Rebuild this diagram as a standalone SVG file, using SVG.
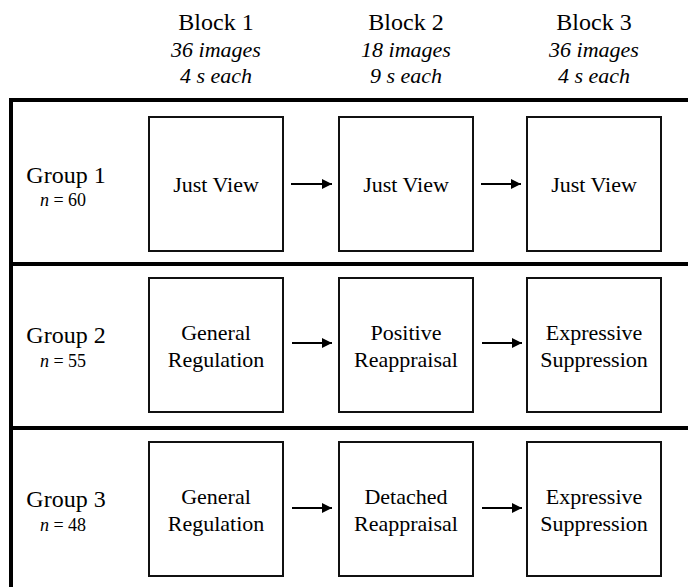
<svg xmlns="http://www.w3.org/2000/svg" width="688" height="587" viewBox="0 0 688 587" font-family="Liberation Serif, serif">
<style>
text{fill:#000;text-anchor:middle}
.hd{font-size:24px}
.it{font-size:22px;font-style:italic}
.grp{font-size:24px}
.n{font-size:18px}
.bx{font-size:22px}
.box{fill:#fff;stroke:#111;stroke-width:2}
.frame{fill:none;stroke:#000;stroke-width:4}
.arr{stroke:#000;stroke-width:2;fill:none}
</style>
<defs>
<marker id="ah" viewBox="0 0 10 10" refX="10" refY="5" markerWidth="5" markerHeight="5" orient="auto" markerUnits="strokeWidth">
<path d="M0,0 L10,5 L0,10 z" fill="#000"/>
</marker>
</defs>
<rect width="688" height="587" fill="#fff"/>
<g id="headers">
<text class="hd" x="216" y="30">Block 1</text>
<text class="it" x="216" y="57">36 images</text>
<text class="it" x="216" y="83">4 s each</text>
<text class="hd" x="406" y="30">Block 2</text>
<text class="it" x="406" y="57">18 images</text>
<text class="it" x="406" y="83">9 s each</text>
<text class="hd" x="594" y="30">Block 3</text>
<text class="it" x="594" y="57">36 images</text>
<text class="it" x="594" y="83">4 s each</text>
</g>
<g id="frame">
<path class="frame" d="M690,100 H11 V590 M11,264 H690 M11,428 H690"/>
</g>
<g id="group1-label">
<text class="grp" x="66" y="183">Group 1</text>
<text class="n" x="63" y="206"><tspan font-style="italic">n</tspan> = 60</text>
</g>
<g id="group2-label">
<text class="grp" x="66" y="343">Group 2</text>
<text class="n" x="63" y="367"><tspan font-style="italic">n</tspan> = 55</text>
</g>
<g id="group3-label">
<text class="grp" x="66" y="507">Group 3</text>
<text class="n" x="63" y="531"><tspan font-style="italic">n</tspan> = 48</text>
</g>
<g id="g1b1"><rect class="box" x="149" y="117" width="134" height="134"/><text class="bx" x="216" y="192">Just View</text></g>
<g id="g1b2"><rect class="box" x="339" y="117" width="134" height="134"/><text class="bx" x="406" y="192">Just View</text></g>
<g id="g1b3"><rect class="box" x="527" y="117" width="134" height="134"/><text class="bx" x="594" y="192">Just View</text></g>
<g id="g2b1"><rect class="box" x="149" y="278" width="134" height="134"/><text class="bx" x="216" y="340">General</text><text class="bx" x="216" y="367">Regulation</text></g>
<g id="g2b2"><rect class="box" x="339" y="278" width="134" height="134"/><text class="bx" x="406" y="340">Positive</text><text class="bx" x="406" y="367">Reappraisal</text></g>
<g id="g2b3"><rect class="box" x="527" y="278" width="134" height="134"/><text class="bx" x="594" y="340">Expressive</text><text class="bx" x="594" y="367">Suppression</text></g>
<g id="g3b1"><rect class="box" x="149" y="442" width="134" height="134"/><text class="bx" x="216" y="504">General</text><text class="bx" x="216" y="531">Regulation</text></g>
<g id="g3b2"><rect class="box" x="339" y="442" width="134" height="134"/><text class="bx" x="406" y="504">Detached</text><text class="bx" x="406" y="531">Reappraisal</text></g>
<g id="g3b3"><rect class="box" x="527" y="442" width="134" height="134"/><text class="bx" x="594" y="504">Expressive</text><text class="bx" x="594" y="531">Suppression</text></g>
<g id="connectors">
<line class="arr" x1="291" y1="184" x2="332" y2="184" marker-end="url(#ah)"/>
<line class="arr" x1="481" y1="184" x2="521" y2="184" marker-end="url(#ah)"/>
<line class="arr" x1="292" y1="343" x2="332" y2="343" marker-end="url(#ah)"/>
<line class="arr" x1="482" y1="343" x2="522" y2="343" marker-end="url(#ah)"/>
<line class="arr" x1="292" y1="508" x2="332" y2="508" marker-end="url(#ah)"/>
<line class="arr" x1="482" y1="508" x2="522" y2="508" marker-end="url(#ah)"/>
</g>
</svg>
